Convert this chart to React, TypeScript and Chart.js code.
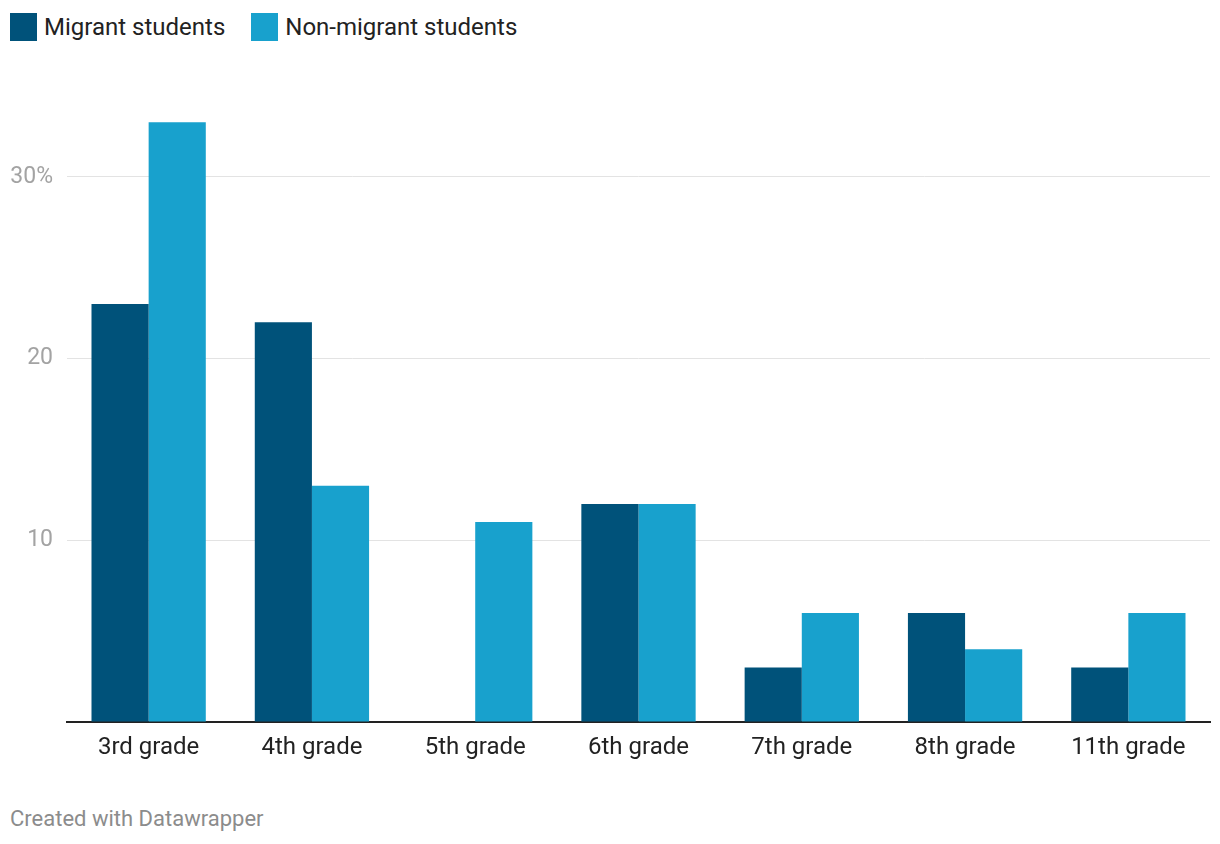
import React, { useEffect, useRef } from "react";
import { Chart, registerables } from "chart.js";

Chart.register(...registerables);

const categories = ["3rd grade", "4th grade", "5th grade", "6th grade", "7th grade", "8th grade", "11th grade"];
const migrant = [23, 22, 0, 12, 3, 6, 3];
const nonMigrant = [33, 13, 11, 12, 6, 4, 6];
const yTicks = [0, 10, 20, 30];
const seriesNames = ["Migrant students", "Non-migrant students"];
const colors = ["#00527a", "#18a1cd"];

const FONT = "Roboto, 'Noto Sans', sans-serif";

export default function App() {
  const ref = useRef<HTMLCanvasElement>(null);
  useEffect(() => {
    if (!ref.current) return;
    const chart = new Chart(ref.current, {
      type: "bar",
      data: {
        labels: categories,
        datasets: [
          { label: seriesNames[0], data: migrant, backgroundColor: colors[0], borderWidth: 0 },
          { label: seriesNames[1], data: nonMigrant, backgroundColor: colors[1], borderWidth: 0 },
        ],
      },
      options: {
        animation: false,
        responsive: false,
        maintainAspectRatio: false,
        layout: { padding: { left: 10, right: 10, top: 36, bottom: 0 } },
        plugins: { legend: { display: false }, tooltip: { enabled: false } },
        datasets: { bar: { categoryPercentage: 0.7, barPercentage: 1.0 } },
        scales: {
          x: {
            afterFit: (s: any) => {
              s.height = 50;
            },
            grid: { display: false, drawTicks: false },
            border: { display: true, color: "#222", width: 2 },
            ticks: { color: "#222", font: { family: FONT, size: 24 }, padding: 12 },
          },
          y: {
            min: 0,
            max: 35,
            afterBuildTicks: (s: any) => {
              s.ticks = yTicks.map((v) => ({ value: v }));
            },
            afterFit: (s: any) => {
              s.width = 57;
            },
            grid: {
              color: (ctx: any) => (ctx.tick && ctx.tick.value === 0 ? "rgba(0,0,0,0)" : "#e3e3e3"),
              lineWidth: 1,
              drawTicks: false,
            },
            border: { display: false },
            ticks: {
              color: "#a3a3a3",
              font: { family: FONT, size: 23, lineHeight: 1.0 },
              padding: 14,
              callback: (v: any) => (v === 0 ? "" : v === 30 ? v + "%" : String(v)),
            },
          },
        },
      },
    });
    return () => chart.destroy();
  }, []);

  return (
    <div style={{ position: "fixed", left: 0, top: 0, width: 1220, height: 844, background: "#fff", fontFamily: FONT }}>
      <div style={{ position: "absolute", left: 10, top: 13, display: "flex", alignItems: "center", fontSize: 24, color: "#222" }}>
        {seriesNames.map((n, i) => (
          <div key={n} style={{ display: "flex", alignItems: "center", marginRight: 26 }}>
            <span style={{ display: "inline-block", width: 27, height: 28, background: colors[i], marginRight: 7 }} />
            <span>{n}</span>
          </div>
        ))}
      </div>
      <canvas ref={ref} width={1220} height={722} style={{ position: "absolute", left: 0, top: 50, width: 1220, height: 722 }} />
      <div style={{ position: "absolute", left: 10, top: 806, fontSize: 22, color: "#8c8c8c" }}>Created with Datawrapper</div>
    </div>
  );
}
